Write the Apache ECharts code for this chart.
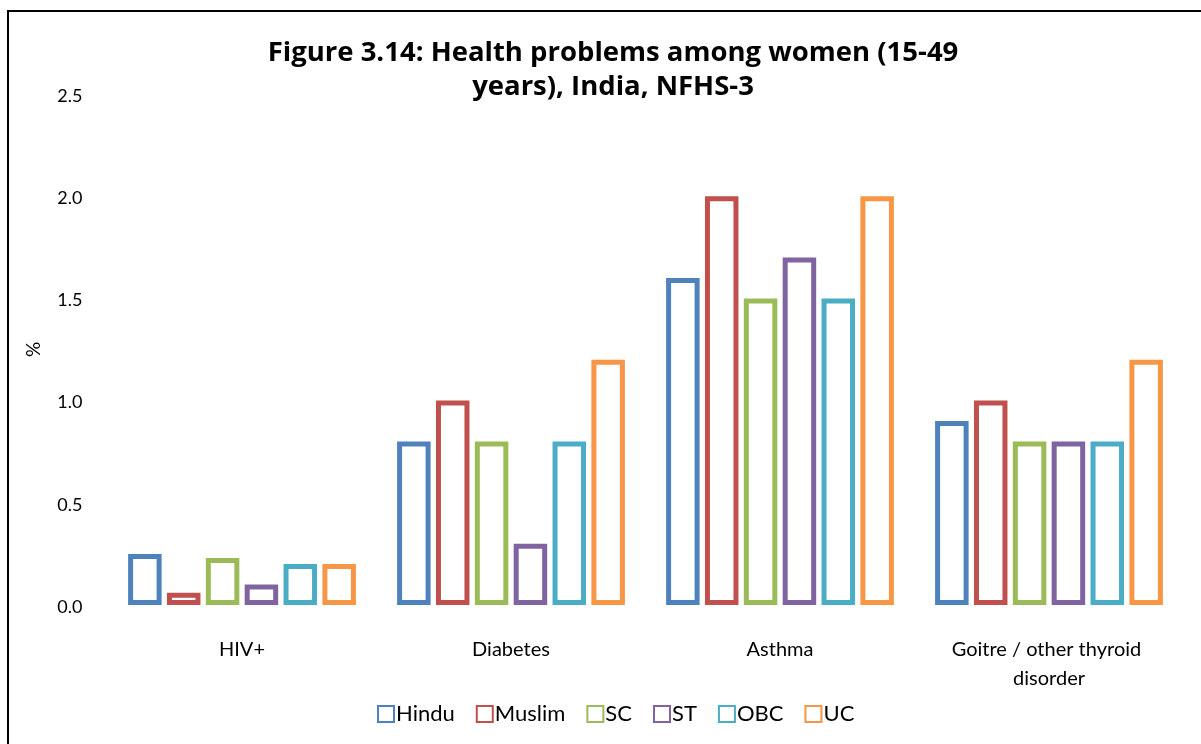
<!DOCTYPE html>
<html>
<head>
<meta charset="UTF-8">
<title>Health problems among women</title>
<script src="https://cdn.jsdelivr.net/npm/echarts@6/dist/echarts.min.js"></script>
<style>
html, body { margin: 0; padding: 0; background: #fff; }
#chart { width: 1201px; height: 744px; }
</style>
</head>
<body>
<div id="chart"></div>
<script>
// chart data
var categories = ['HIV+', 'Diabetes', 'Asthma', 'Goitre / other thyroid disorder'];
var groups = ['Hindu', 'Muslim', 'SC', 'ST', 'OBC', 'UC'];
var hindu  = [0.25, 0.8, 1.6, 0.9];
var muslim = [0.06, 1.0, 2.0, 1.0];
var sc     = [0.23, 0.8, 1.5, 0.8];
var st     = [0.1, 0.3, 1.7, 0.8];
var obc    = [0.2, 0.8, 1.5, 0.8];
var uc     = [0.2, 1.2, 2.0, 1.2];
var colors = ['#4F81BD', '#C0504D', '#9BBB59', '#8064A2', '#4BACC6', '#F79646'];

var chart = echarts.init(document.getElementById('chart'));
var values = [hindu, muslim, sc, st, obc, uc];
var series = [];
for (var i = 0; i < groups.length; i++) {
	series.push({
		name: groups[i],
		type: 'bar',
		data: values[i],
		barWidth: 33.5,
		barGap: '16%',
		itemStyle: {
			color: '#fff',
			borderColor: colors[i],
			borderWidth: 5
		}
	});
}

var option = {
	animation: false,
	color: colors,
	title: {
		text: 'Figure 3.14: Health problems among women (15-49\nyears), India, NFHS-3',
		left: 608,
		top: 31,
		textAlign: 'center',
		textStyle: {
			fontFamily: 'Open Sans',
			fontWeight: 'bold',
			fontSize: 27.5,
			lineHeight: 34,
			color: '#000'
		}
	},
	graphic: [{
		type: 'rect',
		shape: { x: 8, y: 11, width: 1210, height: 760 },
		style: { fill: 'none', stroke: '#000', lineWidth: 2 }
	}],
	legend: {
		data: groups,
		icon: 'rect',
		bottom: 14,
		left: 372,
		itemWidth: 16,
		itemHeight: 16,
		itemGap: 21,
		textStyle: { fontFamily: 'Lato', fontSize: 22, color: '#000', padding: [0, 0, 0, -3] }
	},
	grid: {
		left: 107.5,
		right: 17.5,
		top: 94,
		bottom: 139
	},
	xAxis: {
		type: 'category',
		data: categories,
		axisLine: { show: false },
		axisTick: { show: false },
		axisLabel: {
			interval: 0,
			margin: 30,
			fontFamily: 'Lato',
			fontSize: 20,
			lineHeight: 29,
			color: '#000',
			width: 240,
			overflow: 'break'
		}
	},
	yAxis: {
		type: 'value',
		min: 0,
		max: 2.5,
		interval: 0.5,
		name: '%',
		nameLocation: 'middle',
		nameGap: 64,
		nameTextStyle: { fontFamily: 'Lato', fontSize: 19, color: '#000' },
		splitLine: { show: false },
		axisLine: { show: false },
		axisTick: { show: false },
		axisLabel: {
			margin: 25,
			color: '#000',
			formatter: function (v) { return '{t|' + v.toFixed(1) + '}'; },
			rich: {
				t: { fontFamily: 'Lato', fontSize: 18, color: '#000', padding: [4, 0, 0, 0] }
			}
		}
	},
	series: series
};
chart.setOption(option);
</script>
</body>
</html>
